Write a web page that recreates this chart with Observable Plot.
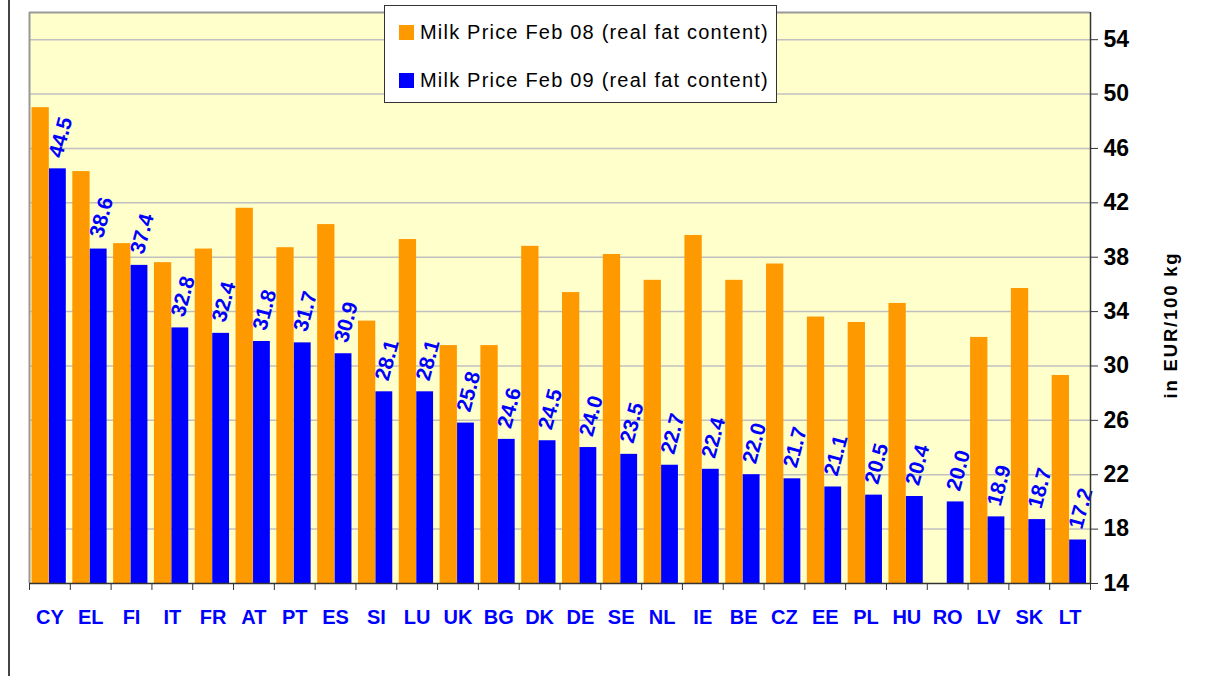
<!DOCTYPE html>
<html>
<head>
<meta charset="utf-8">
<script src="https://cdn.jsdelivr.net/npm/d3@7"></script>
<script src="https://cdn.jsdelivr.net/npm/@observablehq/plot@0.6"></script>
<style>
  html, body { margin: 0; padding: 0; background: #fff; font-family: Arial, "Liberation Sans", sans-serif; overflow: hidden; }
  #wrap { position: relative; width: 1208px; height: 676px; overflow: hidden; }
  #chart svg { display: block; max-width: none !important; }
  #leftline { position: absolute; left: 8px; top: 0; width: 2px; height: 676px; background: #444; }
  #legend { position: absolute; left: 384px; top: 5px; width: 393px; height: 98px; background: #fff;
            border: 1.5px solid #333; box-sizing: border-box; }
  .lrow { position: absolute; left: 14px; display: flex; align-items: center; font-size: 20px; letter-spacing: 1.2px; color: #000; white-space: nowrap; }
  .sw { width: 15px; height: 15px; margin-right: 6px; }
  #ytitle { position: absolute; left: 1171px; top: 325px; transform: translate(-50%, -50%) rotate(-90deg);
            font-size: 18.5px; letter-spacing: 1.8px; font-weight: bold; color: #000; white-space: nowrap; }
</style>
</head>
<body>
<div id="wrap">
  <div id="chart"></div>
  <div id="leftline"></div>
  <div id="legend"></div>
  <div id="ytitle"></div>
</div>
<script>
const countries = ["CY","EL","FI","IT","FR","AT","PT","ES","SI","LU","UK","BG","DK","DE","SE","NL","IE","BE","CZ","EE","PL","HU","RO","LV","SK","LT"];
const feb08 = [49.0,44.3,39.0,37.6,38.6,41.6,38.7,40.4,33.3,39.3,31.5,31.5,38.8,35.4,38.2,36.3,39.6,36.3,37.5,33.6,33.2,34.6,null,32.1,35.7,29.3];
const feb09 = [44.5,38.6,37.4,32.8,32.4,31.8,31.7,30.9,28.1,28.1,25.8,24.6,24.5,24.0,23.5,22.7,22.4,22.0,21.7,21.1,20.5,20.4,20.0,18.9,18.7,17.2];
const seriesNames = ["Milk Price Feb 08 (real fat content)", "Milk Price Feb 09 (real fat content)"];
const seriesColors = ["#FF9900", "#0000FF"];
const yTicks = [14,18,22,26,30,34,38,42,46,50,54];
const yDomain = [14, 56];
const yTitle = "in EUR/100 kg";

const W = 1208, H = 676, mL = 29, mR = 118, mT = 12, mB = 93;
const bw = (W - mL - mR) / countries.length;

const d08 = countries.map((c, i) => ({country: c, v: feb08[i]})).filter(d => d.v != null);
const d09 = countries.map((c, i) => ({country: c, v: feb09[i]}));

const chart = Plot.plot({
  width: W, height: H,
  marginLeft: mL, marginRight: mR, marginTop: mT, marginBottom: mB,
  style: {fontFamily: "Arial, 'Liberation Sans', sans-serif", background: "transparent", overflow: "visible"},
  x: {type: "band", domain: countries, padding: 0, round: false},
  y: {domain: yDomain},
  marks: [
    Plot.frame({fill: "#FFFFCC", stroke: null}),
    Plot.gridY(yTicks.slice(1), {stroke: "#c0c0c0", strokeOpacity: 1, strokeWidth: 1.5}),
    Plot.ruleY([yDomain[1]], {stroke: "#999", strokeWidth: 2}),
    Plot.ruleX([countries[0]], {y1: yDomain[0], y2: yDomain[1], dx: -bw / 2, stroke: "#999", strokeWidth: 2}),
    Plot.barY(d08, {x: "country", y1: yDomain[0], y2: "v", fill: seriesColors[0], insetLeft: 2.5, insetRight: 21}),
    Plot.barY(d09, {x: "country", y1: yDomain[0], y2: "v", fill: seriesColors[1], insetLeft: 20, insetRight: 4}),
    Plot.text(d09, {x: "country", y: "v", text: d => d.v.toFixed(1), rotate: -75, textAnchor: "start",
      lineAnchor: "bottom", dx: 12, dy: -10, fill: seriesColors[1], fontSize: 21, fontWeight: "bold"}),
    Plot.ruleY([yDomain[0]], {stroke: "#333", strokeWidth: 1.5}),
    Plot.ruleX([countries[countries.length - 1]], {y1: yDomain[0], y2: yDomain[1], dx: bw / 2, stroke: "#333", strokeWidth: 1.5}),
    Plot.axisY({anchor: "right", ticks: yTicks, tickSize: 7, tickPadding: 6, fontSize: 23, fontWeight: "bold",
      fill: "#000", stroke: "#333", label: null}),
    Plot.axisX({tickSize: 0, tickPadding: 26, fontSize: 20, fontWeight: "bold", fill: "#0000FF", label: null}),
    Plot.axisX({tickSize: 7, tickFormat: () => "", dx: -bw / 2, stroke: "#333", label: null}),
    Plot.axisX({ticks: [countries[countries.length - 1]], tickSize: 7, tickFormat: () => "", dx: bw / 2, stroke: "#333", label: null})
  ]
});
document.getElementById("chart").appendChild(chart);

const leg = document.getElementById("legend");
seriesNames.forEach((name, i) => {
  const row = document.createElement("div");
  row.className = "lrow";
  row.style.top = (i === 0 ? 15 : 63) + "px";
  const sw = document.createElement("div");
  sw.className = "sw";
  sw.style.background = seriesColors[i];
  const t = document.createElement("span");
  t.textContent = name;
  row.appendChild(sw); row.appendChild(t);
  leg.appendChild(row);
});
document.getElementById("ytitle").textContent = yTitle;
</script>
</body>
</html>
